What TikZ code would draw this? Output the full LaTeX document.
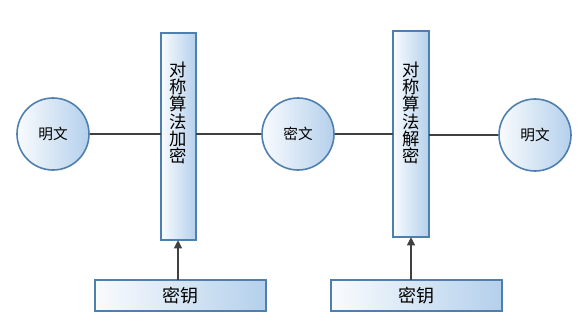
\documentclass[tikz,border=0pt]{standalone}
\usepackage{fontspec}
\newfontfamily\cjk{Noto Sans CJK SC}
\usetikzlibrary{arrows.meta}
\definecolor{bord}{HTML}{4F7FAF}
\definecolor{fillb}{HTML}{B4D0EC}
\tikzset{
  box/.style={draw=bord, line width=1.2pt, left color=white!92!fillb, right color=fillb, shading angle=90},
  circ/.style={circle, draw=bord, line width=1.2pt, left color=white!92!fillb, right color=fillb, minimum size=72\unitlen, inner sep=0pt, font=\cjk\fontsize{11}{12}\selectfont},
  vtext/.style={align=center, inner sep=0pt, font=\cjk\fontsize{13}{12.8}\selectfont},
  ktext/.style={inner sep=0pt, font=\cjk\fontsize{13.5}{14}\selectfont},
  conn/.style={draw=black!75, line width=0.8pt},
  arr/.style={draw=black!75, line width=0.8pt, -{Triangle[length=6pt,width=6pt]}}
}
\newlength{\unitlen}
\setlength{\unitlen}{0.75pt}
\begin{document}
\begin{tikzpicture}[x=0.75pt,y=-0.75pt]
\useasboundingbox (0,0) rectangle (588,328);
% circles
\node[circ] (p1) at (53,134) {明文};
\node[circ] (c) at (298,134) {密文};
\node[circ] (p2) at (535,135) {明文};
% rectangles
\path[box] (161,33) rectangle (196,240);
\node[inner sep=0pt, minimum width=35\unitlen, minimum height=207\unitlen] (enc) at (178.5,136.5) {};
\node[vtext, anchor=north] (enct) at (178.5,62) {对\\称\\算\\法\\加\\密};
\path[box] (393,31) rectangle (429,237);
\node[inner sep=0pt, minimum width=36\unitlen, minimum height=206\unitlen] (dec) at (411,134) {};
\node[vtext, anchor=north] (dect) at (411,62) {对\\称\\算\\法\\解\\密};
% key boxes
\path[box] (95,280) rectangle (266,311);
\node[inner sep=0pt, minimum width=171\unitlen, minimum height=31\unitlen] (k1) at (180.5,295.5) {};
\node[ktext] (k1t) at (180.5,295.5) {密钥};
\path[box] (331,280) rectangle (502,311);
\node[inner sep=0pt, minimum width=171\unitlen, minimum height=31\unitlen] (k2) at (416.5,295.5) {};
\node[ktext] (k2t) at (416.5,295.5) {密钥};
% connectors
\draw[conn] (p1.east) -- (p1.east -| enc.west);
\draw[conn] (enc.east |- c.west) -- (c.west);
\draw[conn] (c.east) -- (c.east -| dec.west);
\draw[conn] (dec.east |- 0,135) -- (p2.west);
\draw[arr] (k1.north -| 178,0) -- (enc.south -| 178,0);
\draw[arr] (k2.north -| 411,0) -- (dec.south -| 411,0);
\end{tikzpicture}
\end{document}
